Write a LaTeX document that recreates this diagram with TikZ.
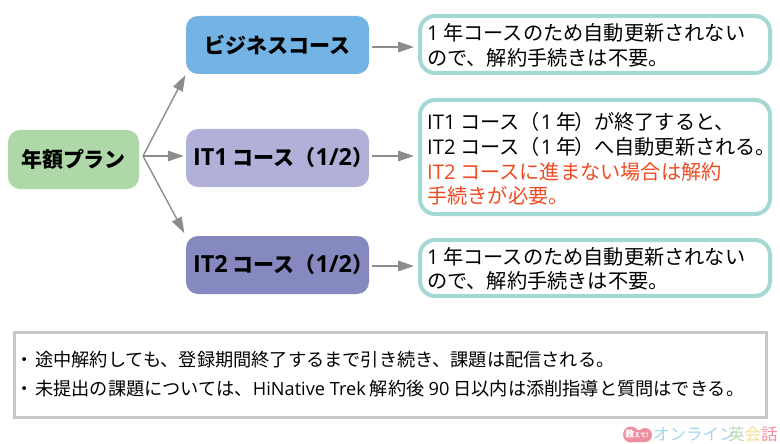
\documentclass[tikz,border=0pt]{standalone}
\usepackage{fontspec}
\setmainfont{Noto Sans CJK JP}
\newfontfamily\latf{Open Sans}
\newfontfamily\latbf[Scale=1.12]{Open Sans}
\newcommand{\lat}[1]{{\latf #1}}
\newcommand{\latb}[1]{{\latbf\bfseries #1}}
\newcommand{\shifted}[1]{\makebox[180pt][l]{\hspace{5.5pt}#1}}
\usetikzlibrary{arrows.meta}
\definecolor{planc}{HTML}{AED8A8}
\definecolor{bizc}{HTML}{74B4E4}
\definecolor{itac}{HTML}{B1B0D8}
\definecolor{itbc}{HTML}{8589BF}
\definecolor{framec}{HTML}{A4D8D5}
\definecolor{arrowc}{HTML}{8C8C8C}
\definecolor{alertc}{HTML}{EE4B22}
\definecolor{notec}{HTML}{C8C8C8}
\definecolor{logopink}{HTML}{EE8FA0}
\definecolor{logoblue}{HTML}{A6D3EE}
\definecolor{logogreen}{HTML}{B5DDB0}
\definecolor{logoyellow}{HTML}{F6DE8E}
\tikzset{
  x=1pt,y=-1pt,
  course/.style={rounded corners=12pt,inner sep=0pt,font=\fontsize{21}{24}\selectfont\bfseries,text=black},
  detail/.style={draw=framec,line width=4pt,fill=white,rounded corners=15pt},
  bodytext/.style={anchor=west,align=left,inner sep=0pt,font=\fontsize{20.2}{24.6}\selectfont,text=black},
  notetext/.style={anchor=west,inner sep=0pt,font=\fontsize{18.2}{20}\selectfont,text=black},
  flow/.style={draw=arrowc,line width=1.4pt,-{Triangle[length=16pt,width=10.5pt]}},
  logo/.style={anchor=west,inner sep=0pt,font=\fontsize{16.5}{16.5}\selectfont}
}
\begin{document}
\begin{tikzpicture}
\useasboundingbox (0,0) rectangle (780,444);
% course nodes
\node[course,fill=planc,minimum width=131pt,minimum height=59pt] (plan) at (73.5,159.5) {年額プラン};
\node[course,fill=bizc,minimum width=183pt,minimum height=58pt] (biz) at (277.5,45) {ビジネスコース};
\node[course,fill=itac,minimum width=183pt,minimum height=58pt] (ita) at (277.5,158) {\shifted{\latb{IT1} コース（\latb{1/2}）}};
\node[course,fill=itbc,minimum width=183pt,minimum height=58pt] (itb) at (277.5,265) {\shifted{\latb{IT2} コース（\latb{1/2}）}};
% detail boxes
\node[detail,minimum width=350pt,minimum height=57pt,inner sep=0pt] (da) at (595,44.5) {};
\node[detail,minimum width=350pt,minimum height=114pt,inner sep=0pt] (db) at (595,157) {};
\node[detail,minimum width=350pt,minimum height=56pt,inner sep=0pt] (dc) at (595,268) {};
\node[bodytext] (ta) at (427,45.5) {\lat{1} 年コースのため自動更新されない\\ので、解約手続きは不要。};
\node[bodytext] (tb) at (427,159) {\lat{IT1} コース（\hspace{1pt}\lat{1} 年\hspace{-3pt}）が終了すると、\\\lat{IT2} コース（\hspace{1pt}\lat{1} 年\hspace{-3pt}）へ自動更新される。\\\textcolor{alertc}{\lat{IT2} コースに進まない場合は解約}\\\textcolor{alertc}{手続きが必要。}};
\node[bodytext] (tc) at (427,269) {\lat{1} 年コースのため自動更新されない\\ので、解約手続きは不要。};
% connectors
\coordinate (hub) at (143,156);
\draw[flow,shorten >=1pt] (hub) -- (biz.south west);
\draw[flow,shorten >=2pt] (hub) -- (ita.west |- hub);
\draw[flow,shorten >=3pt] (hub) -- (itb.north west);
\draw[flow,shorten <=3pt,shorten >=4pt] (biz.east |- 0,47) -- (da.west |- 0,47);
\draw[flow,shorten <=3pt,shorten >=4pt] (ita.east |- 0,156) -- (db.west |- 0,156);
\draw[flow,shorten <=3pt,shorten >=4pt] (itb.east |- 0,266) -- (dc.west |- 0,266);
% note
\node[draw=notec,line width=3pt,minimum width=752pt,minimum height=85pt,inner sep=0pt] (note) at (390.5,375) {};
\node[notetext] (na) at (15,360) {・\hspace{2pt}途中解約しても、登録期間終了するまで引き続き、課題は配信される。};
\node[notetext] (nb) at (15,388.5) {・\hspace{2pt}未提出の課題については、\lat{HiNative Trek} 解約後 \lat{90} 日以内は添削指導と質問はできる。};
% logo
\fill[logopink] (631,434.5) circle (8pt) (645,435) circle (7pt) (631,430) rectangle (645,442);
\node[inner sep=0pt,text=white,font=\fontsize{9}{9}\selectfont\bfseries] (lga) at (637,434.5) {教{\fontsize{6}{6}\selectfont えて!}};
\node[logo,text=logoblue] (lgb) at (653,434.5) {オンライン};
\node[logo,text=logogreen] (lgc) at (728,434.5) {英};
\node[logo,text=logoyellow] (lgd) at (744.5,434.5) {会};
\node[logo,text=logopink] (lge) at (761,434.5) {話};
\end{tikzpicture}
\end{document}
